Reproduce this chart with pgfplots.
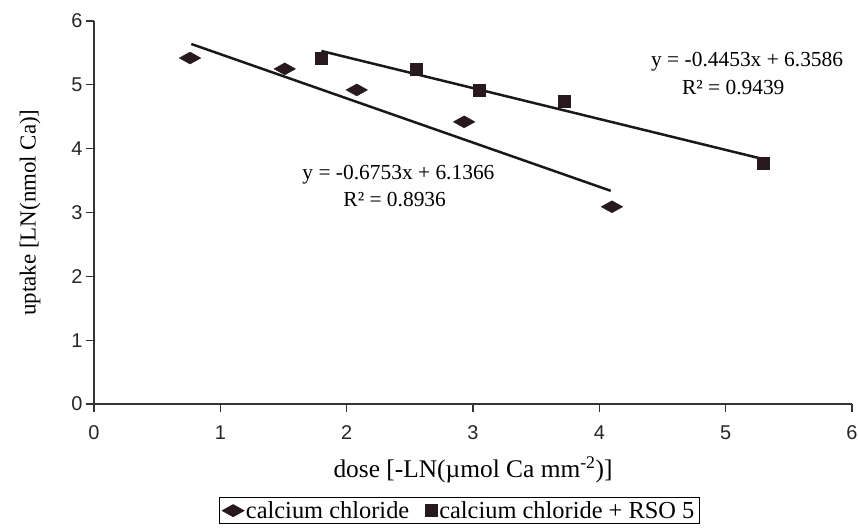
\documentclass[border=0pt]{standalone}
\usepackage{pgfplots}
\pgfplotsset{compat=1.18}
\usepackage{fontspec}
\setmainfont{Liberation Serif}
\newfontfamily\arialf{Liberation Sans}
\definecolor{mk}{RGB}{40,25,30}
\begin{document}
\begin{tikzpicture}
\begin{axis}[
 scale only axis, width=758bp, height=383bp,
 xmin=0,xmax=6,ymin=0,ymax=6,
 axis x line*=bottom, axis y line*=left,
 axis line style={black!80, line width=1.2bp, -},
 tick align=outside, major tick length=8bp,
 tick style={black!80, line width=1.2bp},
 xtick={0,...,6}, ytick={0,...,6},
 ticklabel style={font=\arialf\fontsize{20}{20}\selectfont, text=black!85},
 xticklabel style={yshift=-10bp},
 /pgf/number format/assume math mode=true,
 xlabel={dose [-LN(µmol Ca mm\textsuperscript{-2})]},
 ylabel={uptake [LN(nmol Ca)]},
 xlabel style={at={(axis description cs:0.5,-0.172)}, anchor=center, font=\fontsize{25.5}{25.5}\selectfont},
 ylabel style={at={(axis description cs:-0.0844,0.5)}, anchor=center, font=\fontsize{23}{23}\selectfont},
 clip=false,
 legend columns=2,
 legend style={at={(axis description cs:0.482,-0.243)}, anchor=north, draw=black, line width=0.8bp,
   font=\fontsize{24.5}{24.5}\selectfont, /tikz/every even column/.append style={column sep=14bp}},
 legend image code/.code={\draw[#1, only marks] plot coordinates {(0.2cm,0cm)};},
]
\coordinate (O) at (axis cs:0,0);
\addplot[only marks, mark=diamond*, mark size=6bp, mark options={xscale=2.4, fill=mk, draw=mk}]
 coordinates {(0.76,5.42) (1.51,5.25) (2.08,4.92) (2.93,4.42) (4.10,3.09)};
\addlegendentry{calcium chloride}
\addplot[only marks, mark=square*, mark size=6bp, mark options={fill=mk, draw=mk}]
 coordinates {(1.80,5.42) (2.55,5.25) (3.05,4.92) (3.72,4.75) (5.30,3.78)};
\addlegendentry{calcium chloride + RSO 5}
\addplot[black!90, line width=2.5bp, forget plot] coordinates {(0.77,5.64) (4.09,3.34)};
\addplot[black!90, line width=2.5bp, forget plot] coordinates {(1.80,5.53) (5.27,3.85)};
\node[font=\fontsize{21.5}{21.5}\selectfont] at (axis cs:5.17,5.36) {y = -0.4453x + 6.3586};
\node[font=\fontsize{21.5}{21.5}\selectfont] at (axis cs:5.06,4.95) {R² = 0.9439};
\node[font=\fontsize{21.5}{21.5}\selectfont] at (axis cs:2.41,3.59) {y = -0.6753x + 6.1366};
\node[font=\fontsize{21.5}{21.5}\selectfont] at (axis cs:2.38,3.20) {R² = 0.8936};
\end{axis}
\pgfresetboundingbox
\path[use as bounding box] (O) ++(-94bp,-127bp) rectangle ++(858bp,531bp);
\end{tikzpicture}
\end{document}
